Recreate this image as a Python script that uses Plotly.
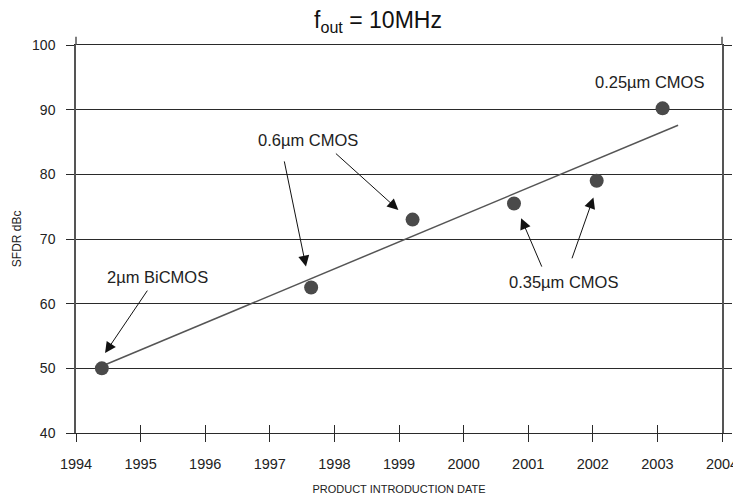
"""
SFDR vs product introduction date, f_out = 10MHz
"""

import plotly.graph_objects as go

# ============================================================================
# DATA
# ============================================================================
intro_year = [1994.40, 1997.64, 1999.21, 2000.78, 2002.06, 2003.08]
sfdr_dbc = [50.0, 62.5, 73.0, 75.5, 79.0, 90.2]

# hand-drawn trend line endpoints
trend_year = [1994.46, 2003.32]
trend_sfdr = [50.6, 87.6]

year_ticks = list(range(1994, 2005))
sfdr_ticks = list(range(40, 101, 10))

# label text, label position, then (tail, head) of each arrow
process_labels = ["2µm BiCMOS", "0.6µm CMOS", "0.35µm CMOS", "0.25µm CMOS"]
label_pos = [(1995.26, 64.2), (1997.59, 85.3), (2001.54, 63.3), (2002.87, 94.3)]
label_arrows = [
    [((1995.12, 62.25), (1994.45, 52.36))],
    [((1997.22, 82.23), (1997.56, 65.74)), ((1998.00, 83.42), (1998.99, 74.5))],
    [((2001.22, 65.5), (2000.89, 73.22)), ((2001.67, 66.78), (2002.01, 76.41))],
    [],
]

FONT = "Liberation Sans, Arial, Helvetica, sans-serif"
GRID = "#2a2a2a"
AXIS = "#555555"

fig = go.Figure()

fig.add_trace(go.Scatter(
    x=trend_year, y=trend_sfdr,
    mode="lines",
    line=dict(color="#555555", width=1.5),
    hoverinfo="skip",
    showlegend=False,
))

fig.add_trace(go.Scatter(
    x=intro_year, y=sfdr_dbc,
    mode="markers",
    marker=dict(color="#4a4a4a", size=14),
    hovertemplate="%{x:.1f}<br>SFDR: %{y:.1f} dBc<extra></extra>",
    showlegend=False,
))

# invisible trace so the inside-tick overlay axis gets drawn
fig.add_trace(go.Scatter(
    x=[year_ticks[0]], y=[sfdr_ticks[0]], xaxis="x2",
    mode="markers", marker=dict(opacity=0), hoverinfo="skip", showlegend=False,
))

for text, (tx, ty), arrows in zip(process_labels, label_pos, label_arrows):
    fig.add_annotation(
        x=tx, y=ty, text=text, showarrow=False,
        font=dict(family=FONT, size=16.5, color="#222222"),
    )
    for (ax, ay), (hx, hy) in arrows:
        fig.add_annotation(
            x=hx, y=hy, ax=ax, ay=ay, axref="x", ayref="y",
            text="", showarrow=True,
            arrowhead=2, arrowsize=2.2, arrowwidth=1, arrowcolor="#111111",
            standoff=0, startstandoff=0,
        )

# y axis title placed by hand
fig.add_annotation(
    x=-0.105, y=0.5, xref="paper", yref="paper",
    text="SFDR dBc", textangle=-90, showarrow=False,
    font=dict(family=FONT, size=12, color="#222222"),
)

# axis lines poke a little above the top gridline
for xp in (0, 1):
    fig.add_shape(
        type="line", xref="paper", yref="paper",
        x0=xp, x1=xp, y0=1, y1=1.021,
        line=dict(color=AXIS, width=1.5),
    )

# the page body adds ~8px, so margins are shifted up/left by that much
fig.update_layout(
    width=741,
    height=497,
    margin=dict(l=68, r=27, t=37, b=72, autoexpand=False),
    plot_bgcolor="white",
    paper_bgcolor="white",
    font=dict(family=FONT, color="#222222"),
    title=dict(
        text="f<sub>out</sub> = 10MHz",
        x=0.4675, xref="paper", xanchor="center",
        y=0.976, yref="container", yanchor="middle",
        font=dict(size=23, color="#111111"),
    ),
    xaxis=dict(
        range=[1994, 2004],
        tickvals=year_ticks,
        ticks="outside", ticklen=8, tickcolor=GRID, tickwidth=1,
        ticklabelstandoff=10,
        showgrid=False, zeroline=False, automargin=False,
        showline=True, linecolor=GRID, linewidth=1, mirror=True,
        tickfont=dict(size=14.5),
        title=dict(text="PRODUCT INTRODUCTION DATE", font=dict(size=11), standoff=13),
    ),
    xaxis2=dict(
        range=[1994, 2004], overlaying="x", anchor="y", side="bottom",
        tickvals=year_ticks, automargin=False,
        ticks="inside", ticklen=8, tickcolor=GRID, tickwidth=1,
        showticklabels=False, showgrid=False, zeroline=False, showline=False,
    ),
    yaxis=dict(
        range=[40, 100],
        tickvals=sfdr_ticks,
        ticks="outside", ticklen=8, tickcolor=GRID, tickwidth=1,
        ticklabelstandoff=8, automargin=False,
        showgrid=True, gridcolor=GRID, gridwidth=1,
        zeroline=False,
        showline=True, linecolor=AXIS, linewidth=1.5, mirror="ticks",
        tickfont=dict(size=14),
    ),
)

fig.write_html("out.html")
